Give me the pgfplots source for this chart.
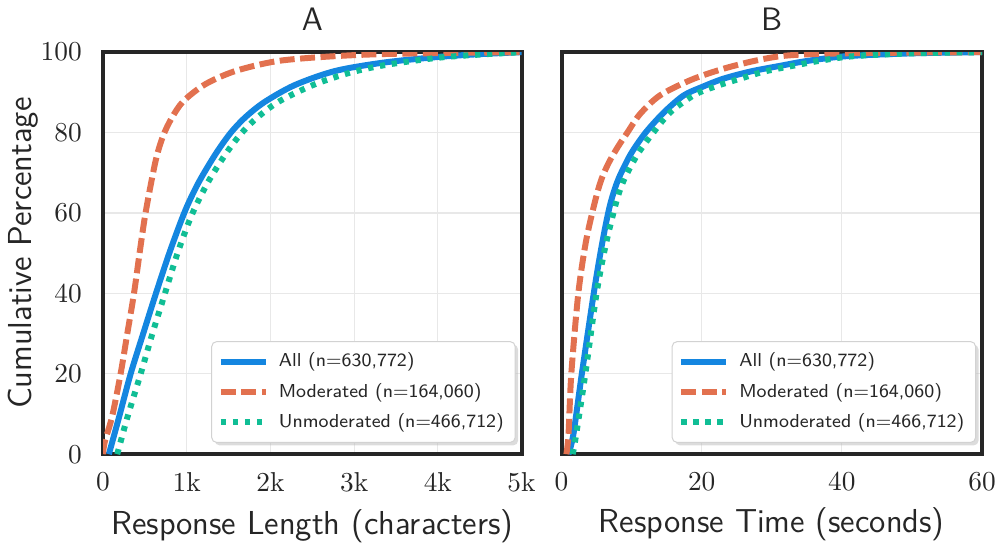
\documentclass[border=0pt]{standalone}
\usepackage{pgfplots}
\pgfplotsset{compat=1.18}
\usetikzlibrary{shadows}

\definecolor{cAll}{HTML}{1486E0}
\definecolor{cMod}{HTML}{E2714F}
\definecolor{cUnm}{HTML}{10BE95}
\definecolor{frame}{HTML}{262626}

% keep the legend's drop shadow off the sample lines
\makeatletter
\tikzset{nopre/.code={\let\tikz@preactions\pgfutil@empty}}
\makeatother

\pgfplotsset{
  cdfpanel/.style={
    scale only axis,
    height=161pt,
    ymin=0, ymax=100,
    ytick={0,20,...,100},
    grid=major,
    grid style={line width=0.5pt, gray!18},
    major tick length=0pt,
    axis line style={line width=1.6pt, frame},
    tick label style={font=\fontsize{10.5}{12}\selectfont, text=black!85},
    xticklabel style={yshift=-4pt},
    yticklabel style={xshift=-5pt},
    label style={font=\sffamily\fontsize{13.3}{15}\selectfont, text=black!85},
    title style={font=\sffamily\fontsize{13}{15}\selectfont, text=black!85, yshift=-1pt},
    legend cell align=left,
    legend style={at={(0.986,0.028)}, anchor=south east,
      font=\sffamily\fontsize{7.5}{9}\selectfont, text=black!85,
      draw=gray!35, rounded corners=2pt, fill=white,
      drop shadow={shadow xshift=1.2pt, shadow yshift=-1.2pt, fill=gray!55},
      row sep=1pt, inner sep=2.5pt,
      /tikz/every odd column/.append style={column sep=2pt}},
    legend image code/.code={\draw[nopre,sharp corners,#1] (0pt,0pt) -- (18pt,0pt);},
  },
  sAll/.style={cAll, line width=2.4pt, smooth},
  sMod/.style={cMod, line width=2.4pt, dash pattern=on 6pt off 2.2pt, smooth},
  sUnm/.style={cUnm, line width=2.4pt, dash pattern=on 2.1pt off 2.7pt, smooth},
}

\begin{document}
\begin{tikzpicture}
\begin{axis}[
  cdfpanel,
  width=167.6pt,
  xmin=0, xmax=5000,
  xtick={0,1000,...,5000},
  xticklabels={$0$,$1\mathrm{k}$,$2\mathrm{k}$,$3\mathrm{k}$,$4\mathrm{k}$,$5\mathrm{k}$},
  scaled x ticks=false,
  title={A},
  xlabel={Response Length (characters)},
  ylabel={Cumulative Percentage},
  ylabel style={yshift=-6pt},
]
\addplot[sAll] coordinates {
  (70,0) (190,9.1) (330,20) (480,30) (640,40.5) (800,50.5) (980,60.5)
  (1140,67.5) (1340,74.5) (1520,79.8) (1700,83.8) (1930,87.6) (2290,91.8)
  (2770,95.3) (3350,97.4) (4000,98.8) (4500,99.5) (5000,100)
};
\addlegendentry{All (n=630,772)}
\addplot[sMod] coordinates {
  (0,0) (20,3) (110,9.5) (210,20) (290,30) (370,40) (440,50.5) (500,59)
  (570,67) (640,74) (720,79.3) (820,83.6) (960,87.8) (1220,92) (1580,95.3)
  (2090,97.8) (2770,99) (3500,99.6) (5000,100)
};
\addlegendentry{Moderated (n=164,060)}
\addplot[sUnm] coordinates {
  (170,0) (290,9.1) (450,20) (590,30) (740,40) (890,50) (1060,59.5)
  (1250,67.5) (1460,74.5) (1640,79.5) (1830,83.5) (2100,87.7) (2530,92)
  (2970,95) (3400,96.9) (4000,98.6) (4500,99.4) (5000,100)
};
\addlegendentry{Unmoderated (n=466,712)}
\end{axis}

\begin{axis}[
  cdfpanel,
  xshift=183.6pt,
  width=168.4pt,
  xmin=0, xmax=60,
  xtick={0,20,40,60},
  yticklabels={},
  title={B},
  xlabel={Response Time (seconds)},
]
\addplot[sAll] coordinates {
  (1.0,0) (1.7,5) (2.9,20) (4.6,40) (5.5,49.5) (6.3,57) (7.0,62.5) (7.8,67)
  (8.6,70.3) (10,75) (12.0,80) (14.6,85) (17.4,89.2) (20,91.3) (23.1,93.4)
  (27,95.2) (31.2,96.6) (35,97.8) (40.7,99) (50,99.7) (60,100)
};
\addlegendentry{All (n=630,772)}
\addplot[sMod] coordinates {
  (0.7,0) (1.0,5) (1.4,20) (2.4,40) (3.5,53) (4.8,63) (5.7,68.4) (6.8,72.7)
  (8.1,76.6) (9.4,80) (11.2,84.6) (14.1,89.3) (18.9,93.4) (24.6,96.6)
  (31.3,99) (40,99.7) (60,100)
};
\addlegendentry{Moderated (n=164,060)}
\addplot[sUnm] coordinates {
  (1.6,0) (2.1,5) (3.4,20) (5.0,40) (6.3,52) (7.7,62) (8.5,66.5) (9.4,70)
  (11,75) (13.1,80) (15.5,85) (18.9,89.3) (22,91.5) (25.5,93.4) (29,95.2)
  (33,96.6) (37,97.9) (41.7,99) (50,99.7) (60,100)
};
\addlegendentry{Unmoderated (n=466,712)}
\end{axis}
\end{tikzpicture}
\end{document}
